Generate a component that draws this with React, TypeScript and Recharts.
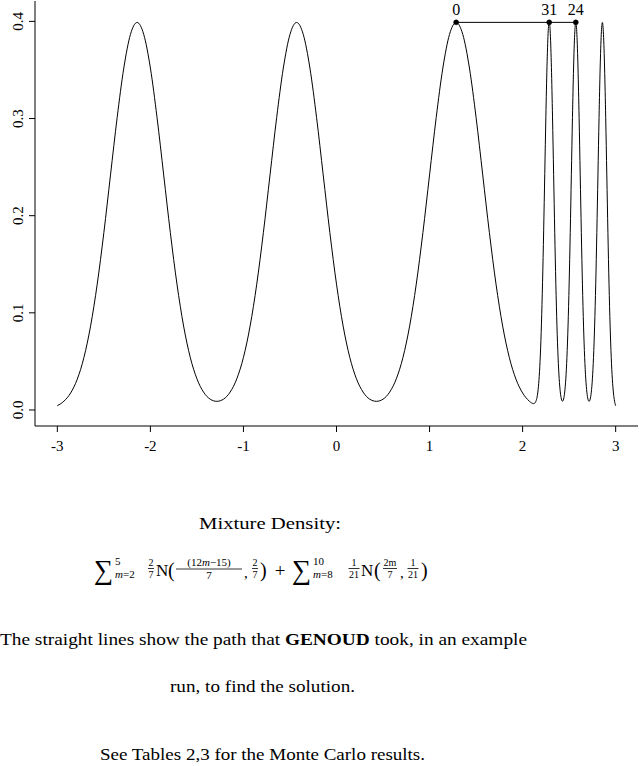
import React from 'react';
import { LineChart, Line, XAxis, YAxis } from 'recharts';

// Density curve: broad part (three wide bumps)
const wideX = [
  -3.0, -2.9286, -2.8571, -2.7857, -2.7143, -2.6429, -2.5714, -2.5, -2.4286, -2.3571,
  -2.2857, -2.2143, -2.1429, -2.0714, -2.0, -1.9286, -1.8571, -1.7857, -1.7143, -1.6429,
  -1.5714, -1.5, -1.4286, -1.3571, -1.2857, -1.2143, -1.1429, -1.0714, -1.0, -0.9286,
  -0.8571, -0.7857, -0.7143, -0.6429, -0.5714, -0.5, -0.4286, -0.3571, -0.2857, -0.2143,
  -0.1429, -0.0714, 0.0, 0.0714, 0.1429, 0.2143, 0.2857, 0.3571, 0.4286, 0.5,
  0.5714, 0.6429, 0.7143, 0.7857, 0.8571, 0.9286, 1.0, 1.0714, 1.1429, 1.2143,
  1.2857, 1.3571, 1.4286, 1.5, 1.5714, 1.6429, 1.7143, 1.7857, 1.8571, 1.9286,
  2.0, 2.0714,
];
const wideY = [
  0.0044, 0.0091, 0.0175, 0.0317, 0.054, 0.0863, 0.1295, 0.1826, 0.242, 0.3011,
  0.352, 0.3866, 0.3989, 0.3866, 0.352, 0.3011, 0.242, 0.1826, 0.1295, 0.0863,
  0.0541, 0.0321, 0.0184, 0.0111, 0.0089, 0.0111, 0.0184, 0.0321, 0.0541, 0.0863,
  0.1295, 0.1826, 0.242, 0.3011, 0.352, 0.3866, 0.3989, 0.3866, 0.352, 0.3011,
  0.242, 0.1826, 0.1295, 0.0863, 0.0541, 0.0321, 0.0184, 0.0111, 0.0089, 0.0111,
  0.0184, 0.0321, 0.0541, 0.0863, 0.1295, 0.1826, 0.242, 0.3011, 0.352, 0.3866,
  0.3989, 0.3866, 0.352, 0.3011, 0.242, 0.1826, 0.1295, 0.0863, 0.054, 0.0317,
  0.0175, 0.0091,
];
// Narrow part (three sharp spikes)
const narrowX = [
  2.0952, 2.1071, 2.119, 2.131, 2.1429, 2.1548, 2.1667, 2.1786, 2.1905, 2.2024,
  2.2143, 2.2262, 2.2381, 2.25, 2.2619, 2.2738, 2.2857, 2.2976, 2.3095, 2.3214,
  2.3333, 2.3452, 2.3571, 2.369, 2.381, 2.3929, 2.4048, 2.4167, 2.4286, 2.4405,
  2.4524, 2.4643, 2.4762, 2.4881, 2.5, 2.5119, 2.5238, 2.5357, 2.5476, 2.5595,
  2.5714, 2.5833, 2.5952, 2.6071, 2.619, 2.631, 2.6429, 2.6548, 2.6667, 2.6786,
  2.6905, 2.7024, 2.7143, 2.7262, 2.7381, 2.75, 2.7619, 2.7738, 2.7857, 2.7976,
  2.8095, 2.8214, 2.8333, 2.8452, 2.8571, 2.869, 2.881, 2.8929, 2.9048, 2.9167,
  2.9286, 2.9405, 2.9524, 2.9643, 2.9762, 2.9881, 3.0,
];
const narrowY = [
  0.0073, 0.0068, 0.0065, 0.0071, 0.0089, 0.013, 0.021, 0.0347, 0.0566, 0.0886,
  0.1315, 0.1844, 0.2435, 0.3024, 0.3532, 0.3876, 0.3998, 0.3874, 0.3527, 0.3017,
  0.2425, 0.183, 0.1299, 0.0866, 0.0544, 0.0323, 0.0186, 0.0113, 0.009, 0.0112,
  0.0185, 0.0321, 0.0541, 0.0864, 0.1296, 0.1827, 0.2421, 0.3011, 0.352, 0.3866,
  0.3989, 0.3866, 0.352, 0.3011, 0.242, 0.1826, 0.1295, 0.0863, 0.0541, 0.0321,
  0.0184, 0.0111, 0.0089, 0.0111, 0.0184, 0.0321, 0.0541, 0.0863, 0.1295, 0.1826,
  0.242, 0.3011, 0.352, 0.3866, 0.3989, 0.3866, 0.352, 0.3011, 0.242, 0.1826,
  0.1295, 0.0863, 0.054, 0.0317, 0.0175, 0.0091, 0.0044,
];

// GENOUD search path
const pathX = [1.2857, 2.2857, 2.5714];
const pathY = [0.399, 0.399, 0.399];
const pathLabels = ['0', '31', '24'];

const xTicks = [-3, -2, -1, 0, 1, 2, 3];
const yTicks = [0, 0.1, 0.2, 0.3, 0.4];

const densityData = [
  ...wideX.map((x, i) => ({ x, y: wideY[i] })),
  ...narrowX.map((x, i) => ({ x, y: narrowY[i] })),
];
const pathData = pathX.map((x, i) => ({ x, y: pathY[i], label: pathLabels[i] }));

const FONT = '"Liberation Serif", "Times New Roman", serif';
const X_DOMAIN: [number, number] = [-3.24, 3.24];
const Y_DOMAIN: [number, number] = [-0.0165, 0.421];

const XTick = (props: any) => {
  const { x, payload } = props;
  return (
    <text x={x} y={451} textAnchor="middle" fontFamily={FONT} fontSize={15} fill="#000">
      {String(payload.value)}
    </text>
  );
};

const YTick = (props: any) => {
  const { y, payload } = props;
  return (
    <text
      x={23}
      y={y}
      transform={`rotate(-90, 23, ${y})`}
      textAnchor="middle"
      fontFamily={FONT}
      fontSize={15}
      fill="#000"
    >
      {Number(payload.value).toFixed(1)}
    </text>
  );
};

const PathLabel = (props: any) => {
  const { x, y, index } = props;
  return (
    <text x={x} y={y - 7} textAnchor="middle" fontFamily={FONT} fontSize={16} fill="#000">
      {pathLabels[index]}
    </text>
  );
};

const Frac = ({ cx, num, den, yn, yd, yb, size, w }: any) => (
  <g>
    <text x={cx} y={yn} textAnchor="middle" fontSize={size}>{num}</text>
    <line x1={cx - w / 2} x2={cx + w / 2} y1={yb} y2={yb} stroke="#000" strokeWidth={0.8} />
    <text x={cx} y={yd} textAnchor="middle" fontSize={size}>{den}</text>
  </g>
);

const Formula = () => (
  <g fontFamily={FONT} fill="#000">
    <text x={94} y={579} fontSize={27}>∑</text>
    <text x={115} y={565} fontSize={11}>5</text>
    <text x={115} y={578} fontSize={11} fontStyle="italic">m<tspan fontStyle="normal">=2</tspan></text>
    <Frac cx={151} num="2" den="7" yn={566} yd={578} yb={568.5} size={10} w={6} />
    <text x={156} y={576} fontSize={17}>N</text>
    <text x={168} y={577} fontSize={20}>(</text>
    <text x={209} y={566} textAnchor="middle" fontSize={11}>(12<tspan fontStyle="italic">m</tspan>−15)</text>
    <line x1={176} x2={242} y1={569} y2={569} stroke="#000" strokeWidth={0.8} />
    <text x={209} y={579} textAnchor="middle" fontSize={11}>7</text>
    <text x={244} y={578} fontSize={15}>,</text>
    <Frac cx={255} num="2" den="7" yn={566} yd={578} yb={568.5} size={10} w={6} />
    <text x={260} y={577} fontSize={20}>)</text>
    <text x={280} y={577} textAnchor="middle" fontSize={19}>+</text>
    <text x={292} y={579} fontSize={27}>∑</text>
    <text x={313} y={565} fontSize={11}>10</text>
    <text x={313} y={578} fontSize={11} fontStyle="italic">m<tspan fontStyle="normal">=8</tspan></text>
    <Frac cx={354} num="1" den="21" yn={566} yd={578} yb={568.5} size={10} w={11} />
    <text x={361} y={576} fontSize={17}>N</text>
    <text x={374} y={577} fontSize={20}>(</text>
    <Frac cx={390} num="2m" den="7" yn={566} yd={578} yb={568.5} size={10} w={14} />
    <text x={400} y={578} fontSize={15}>,</text>
    <Frac cx={413} num="1" den="21" yn={566} yd={578} yb={568.5} size={10} w={11} />
    <text x={421} y={577} fontSize={20}>)</text>
  </g>
);

export default function App() {
  return (
    <div style={{ position: 'absolute', left: 0, top: 0, width: 639, height: 766, background: '#fff' }}>
      <LineChart
        width={639}
        height={466}
        margin={{ top: 1, right: 1, bottom: 0, left: 0 }}
      >
        <XAxis
          xAxisId="b"
          dataKey="x"
          type="number"
          domain={X_DOMAIN}
          allowDataOverflow
          ticks={xTicks}
          interval={0}
          height={40}
          tickSize={6}
          stroke="#000"
          tickLine={{ stroke: '#000' }}
          axisLine={{ stroke: '#000' }}
          tick={<XTick />}
        />
        <XAxis
          xAxisId="t"
          orientation="top"
          dataKey="x"
          type="number"
          domain={X_DOMAIN}
          allowDataOverflow
          height={0}
          tick={false}
          tickLine={false}
          axisLine={{ stroke: '#000' }}
        />
        <YAxis
          yAxisId="l"
          type="number"
          domain={Y_DOMAIN}
          allowDataOverflow
          ticks={yTicks}
          interval={0}
          width={35}
          tickSize={6}
          stroke="#000"
          tickLine={{ stroke: '#000' }}
          axisLine={{ stroke: '#000' }}
          tick={<YTick />}
        />
        <YAxis
          yAxisId="r"
          orientation="right"
          type="number"
          domain={Y_DOMAIN}
          allowDataOverflow
          width={0}
          tick={false}
          tickLine={false}
          axisLine={{ stroke: '#000' }}
        />
        <Line
          xAxisId="b"
          yAxisId="l"
          data={densityData}
          dataKey="y"
          type="monotone"
          stroke="#000"
          strokeWidth={1}
          dot={false}
          activeDot={false}
          isAnimationActive={false}
        />
        <Line
          xAxisId="b"
          yAxisId="l"
          data={pathData}
          dataKey="y"
          type="linear"
          stroke="#000"
          strokeWidth={1}
          dot={{ r: 2.5, fill: '#000', stroke: '#000', strokeWidth: 0.5 }}
          activeDot={false}
          label={<PathLabel />}
          isAnimationActive={false}
        />
      </LineChart>
      <svg
        width={639}
        height={766}
        style={{ position: 'absolute', left: 0, top: 0, pointerEvents: 'none' }}
      >
        <g fontFamily={FONT} fill="#000">
          <text x={199} y={529} fontSize={17} textLength={142} lengthAdjust="spacingAndGlyphs">
            Mixture Density:
          </text>
          <text x={0} y={645} fontSize={17} textLength={527} lengthAdjust="spacingAndGlyphs">
            The straight lines show the path that <tspan fontWeight="bold">GENOUD</tspan> took, in an example
          </text>
          <text x={170} y={692} fontSize={17} textLength={185} lengthAdjust="spacingAndGlyphs">
            run, to find the solution.
          </text>
          <text x={100} y={760} fontSize={17} textLength={325} lengthAdjust="spacingAndGlyphs">
            See Tables 2,3 for the Monte Carlo results.
          </text>
        </g>
        <Formula />
      </svg>
    </div>
  );
}
